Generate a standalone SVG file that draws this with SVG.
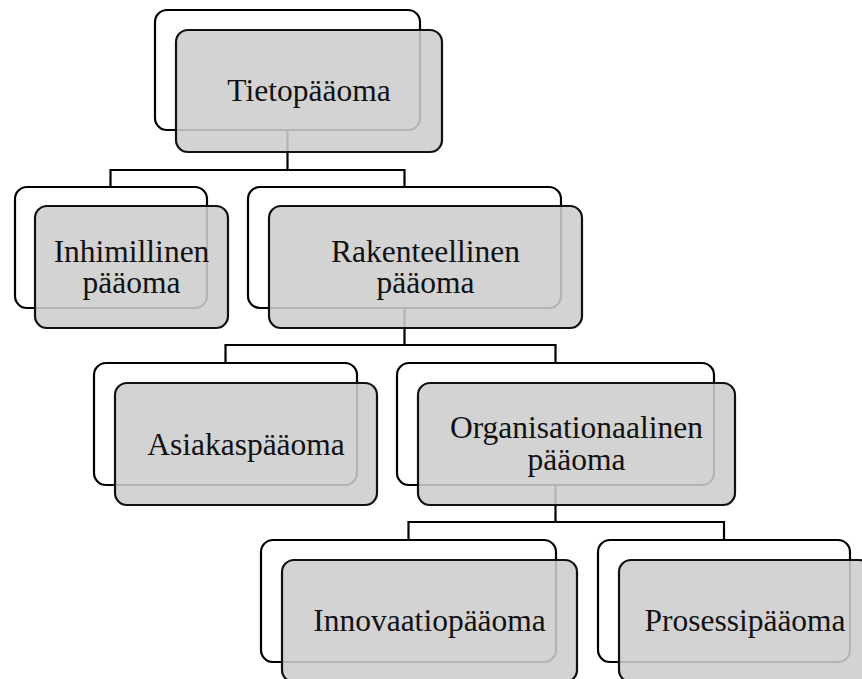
<svg xmlns="http://www.w3.org/2000/svg" width="862" height="679" viewBox="0 0 862 679">
  <style>
    .back { fill: #ffffff; stroke: #000000; stroke-width: 2.2; }
    .front { fill: #cdcdcd; fill-opacity: 0.88; stroke: #111111; stroke-width: 2.2; }
    .link { fill: none; stroke: #000000; stroke-width: 2.2; }
    .label { font-family: "Liberation Serif", "Times New Roman", serif; font-size: 31.5px; fill: #111111; text-anchor: middle; }
  </style>

  <!-- tree connectors, drawn first so the shaded cards lie over them -->
  <g id="connectors">
    <path class="link" d="M287.5 130 V170 M110.5 187 V170 H404.5 V187"/>
    <path class="link" d="M404.5 308 V345 M225.5 363 V345 H555.5 V363"/>
    <path class="link" d="M555.5 485 V522 M408.5 540 V522 H724 V540"/>
  </g>

  <g id="tietopaaoma">
    <rect class="back" x="155" y="10" width="265" height="120" rx="12"/>
    <rect class="front" x="176" y="30" width="266" height="122" rx="12"/>
    <text class="label" x="309" y="101">Tietopääoma</text>
  </g>

  <g id="inhimillinen-paaoma">
    <rect class="back" x="15" y="187" width="192" height="121" rx="12"/>
    <rect class="front" x="35" y="206" width="193" height="122" rx="12"/>
    <text class="label"><tspan x="131.5" y="262">Inhimillinen</tspan><tspan x="131.5" y="293">pääoma</tspan></text>
  </g>

  <g id="rakenteellinen-paaoma">
    <rect class="back" x="248" y="187" width="313" height="121" rx="12"/>
    <rect class="front" x="269" y="206" width="313" height="122" rx="12"/>
    <text class="label"><tspan x="425.5" y="262">Rakenteellinen</tspan><tspan x="425.5" y="293">pääoma</tspan></text>
  </g>

  <g id="asiakaspaaoma">
    <rect class="back" x="94" y="363" width="263" height="122" rx="12"/>
    <rect class="front" x="115" y="383" width="262" height="122" rx="12"/>
    <text class="label" x="246" y="455">Asiakaspääoma</text>
  </g>

  <g id="organisationaalinen-paaoma">
    <rect class="back" x="397" y="363" width="317" height="122" rx="12"/>
    <rect class="front" x="418" y="383" width="317" height="122" rx="12"/>
    <text class="label"><tspan x="576.5" y="438">Organisationaalinen</tspan><tspan x="576.5" y="470">pääoma</tspan></text>
  </g>

  <g id="innovaatiopaaoma">
    <rect class="back" x="261" y="540" width="295" height="122" rx="12"/>
    <rect class="front" x="282" y="560" width="295" height="122" rx="12"/>
    <text class="label" x="429.5" y="631">Innovaatiopääoma</text>
  </g>

  <g id="prosessipaaoma">
    <rect class="back" x="598" y="540" width="252" height="122" rx="12"/>
    <rect class="front" x="619" y="560" width="252" height="122" rx="12"/>
    <text class="label" x="745" y="631">Prosessipääoma</text>
  </g>
</svg>
